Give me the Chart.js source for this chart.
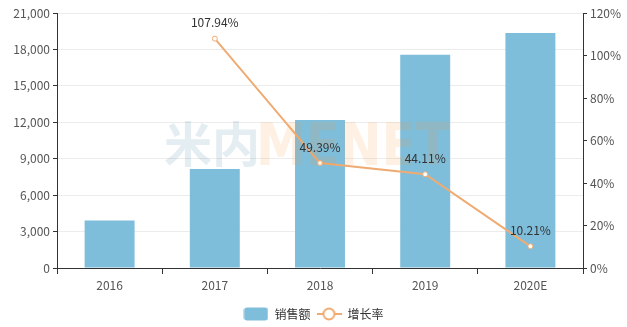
<!DOCTYPE html>
<html lang="zh">
<head>
<meta charset="UTF-8">
<title>销售额与增长率</title>
<script src="https://cdn.jsdelivr.net/npm/chart.js@4/dist/chart.umd.min.js"></script>
<style>
  html, body { margin: 0; padding: 0; background: #fff; }
  #wrap { width: 627px; height: 327px; }
</style>
</head>
<body>
<div id="wrap"><canvas id="chart" width="627" height="327"></canvas></div>
<script>
const years = ['2016', '2017', '2018', '2019', '2020E'];
const sales = [3921, 8153, 12180, 17553, 19345];
const growth = [null, 107.94, 49.39, 44.11, 10.21];

const barColor = '#7fbedb';
const lineColor = '#efab72';
const fontFamily = '"Noto Sans CJK SC", "Microsoft YaHei", sans-serif';

// legend icons
function barIcon() {
    const c = document.createElement('canvas');
    c.width = 25; c.height = 14;
    const g = c.getContext('2d');
    g.fillStyle = barColor;
    g.beginPath();
    g.roundRect(0.5, 0.5, 24, 13, 3);
    g.fill();
    return c;
}
function lineIcon() {
    const c = document.createElement('canvas');
    c.width = 25; c.height = 14;
    const g = c.getContext('2d');
    g.strokeStyle = lineColor;
    g.lineWidth = 2;
    g.beginPath();
    g.moveTo(0, 7); g.lineTo(25, 7);
    g.stroke();
    g.fillStyle = '#fff';
    g.beginPath();
    g.arc(12.5, 7, 5.5, 0, Math.PI * 2);
    g.fill();
    g.stroke();
    return c;
}
const legendIcons = [barIcon(), lineIcon()];

const pointLabels = {
    id: 'pointLabels',
    afterDatasetsDraw(chart) {
        const ctx = chart.ctx;
        const meta = chart.getDatasetMeta(1);
        ctx.save();
        // watermark
        ctx.textBaseline = 'alphabetic';
        ctx.textAlign = 'left';
        ctx.font = 'bold 48px ' + fontFamily;
        ctx.fillStyle = 'rgba(60,130,160,0.14)';
        ctx.fillText('米内', 164, 162);
        ctx.font = 'bold 64px "DejaVu Sans", sans-serif';
        ctx.fillStyle = 'rgba(245,150,60,0.14)';
        ctx.save();
        ctx.translate(256, 165);
        ctx.scale(0.78, 0.92);
        ctx.fillText('MENET', 0, 0);
        ctx.restore();

        ctx.font = '12px ' + fontFamily;
        ctx.fillStyle = '#333';
        ctx.textAlign = 'center';
        ctx.textBaseline = 'middle';
        meta.data.forEach((pt, i) => {
            if (growth[i] == null) return;
            ctx.fillText(growth[i].toFixed(2) + '%', pt.x, pt.y - 16);
        });
        ctx.restore();
    }
};

Chart.defaults.font.family = fontFamily;
Chart.defaults.font.size = 12;
Chart.defaults.color = '#555';

new Chart(document.getElementById('chart'), {
    type: 'bar',
    data: {
        labels: years,
        datasets: [
            {
                label: '销售额',
                data: sales,
                backgroundColor: barColor,
                barPercentage: 0.475,
                categoryPercentage: 1,
                yAxisID: 'y',
                order: 2
            },
            {
                type: 'line',
                label: '增长率',
                data: growth,
                borderColor: lineColor,
                borderWidth: 2,
                backgroundColor: '#fff',
                pointRadius: 2.5,
                pointBorderWidth: 1,
                pointBackgroundColor: '#fff',
                pointBorderColor: lineColor,
                yAxisID: 'y1',
                order: 1
            }
        ]
    },
    options: {
        responsive: false,
        animation: false,
        layout: { padding: { top: 13, left: 0, right: 0, bottom: -3 } },
        plugins: {
            legend: {
                position: 'bottom',
                labels: {
                    usePointStyle: true,
                    pointStyleWidth: 25,
                    color: '#333',
                    padding: 6,
                    font: { size: 12 },
                    generateLabels(chart) {
                        return chart.data.datasets.map((ds, i) => ({
                            text: ds.label,
                            datasetIndex: i,
                            pointStyle: legendIcons[i],
                            fontColor: '#333',
                            hidden: false,
                            lineWidth: 0
                        }));
                    }
                }
            },
            tooltip: { enabled: false }
        },
        scales: {
            x: {
                grid: {
                    drawOnChartArea: false,
                    tickLength: 6,
                    tickColor: '#333',
                    offset: true
                },
                border: { color: '#333', width: 1 },
                ticks: { color: '#555', padding: 4 },
                afterFit(scale) { scale.height = 34; }
            },
            y: {
                position: 'left',
                min: 0,
                max: 21000,
                grid: {
                    color: '#ececec',
                    tickLength: 4,
                    tickColor: '#333'
                },
                border: { color: '#333', width: 1 },
                ticks: {
                    stepSize: 3000,
                    color: '#555',
                    padding: 3,
                    callback: v => v.toLocaleString('en-US')
                },
                afterFit(scale) { scale.width = 57; }
            },
            y1: {
                position: 'right',
                min: 0,
                max: 120,
                grid: {
                    drawOnChartArea: false,
                    tickLength: 4,
                    tickColor: '#333'
                },
                border: { color: '#333', width: 1 },
                ticks: {
                    stepSize: 20,
                    color: '#555',
                    padding: 3,
                    callback: v => v + '%'
                },
                afterFit(scale) { scale.width = 44; }
            }
        }
    },
    plugins: [pointLabels]
});
</script>
</body>
</html>
